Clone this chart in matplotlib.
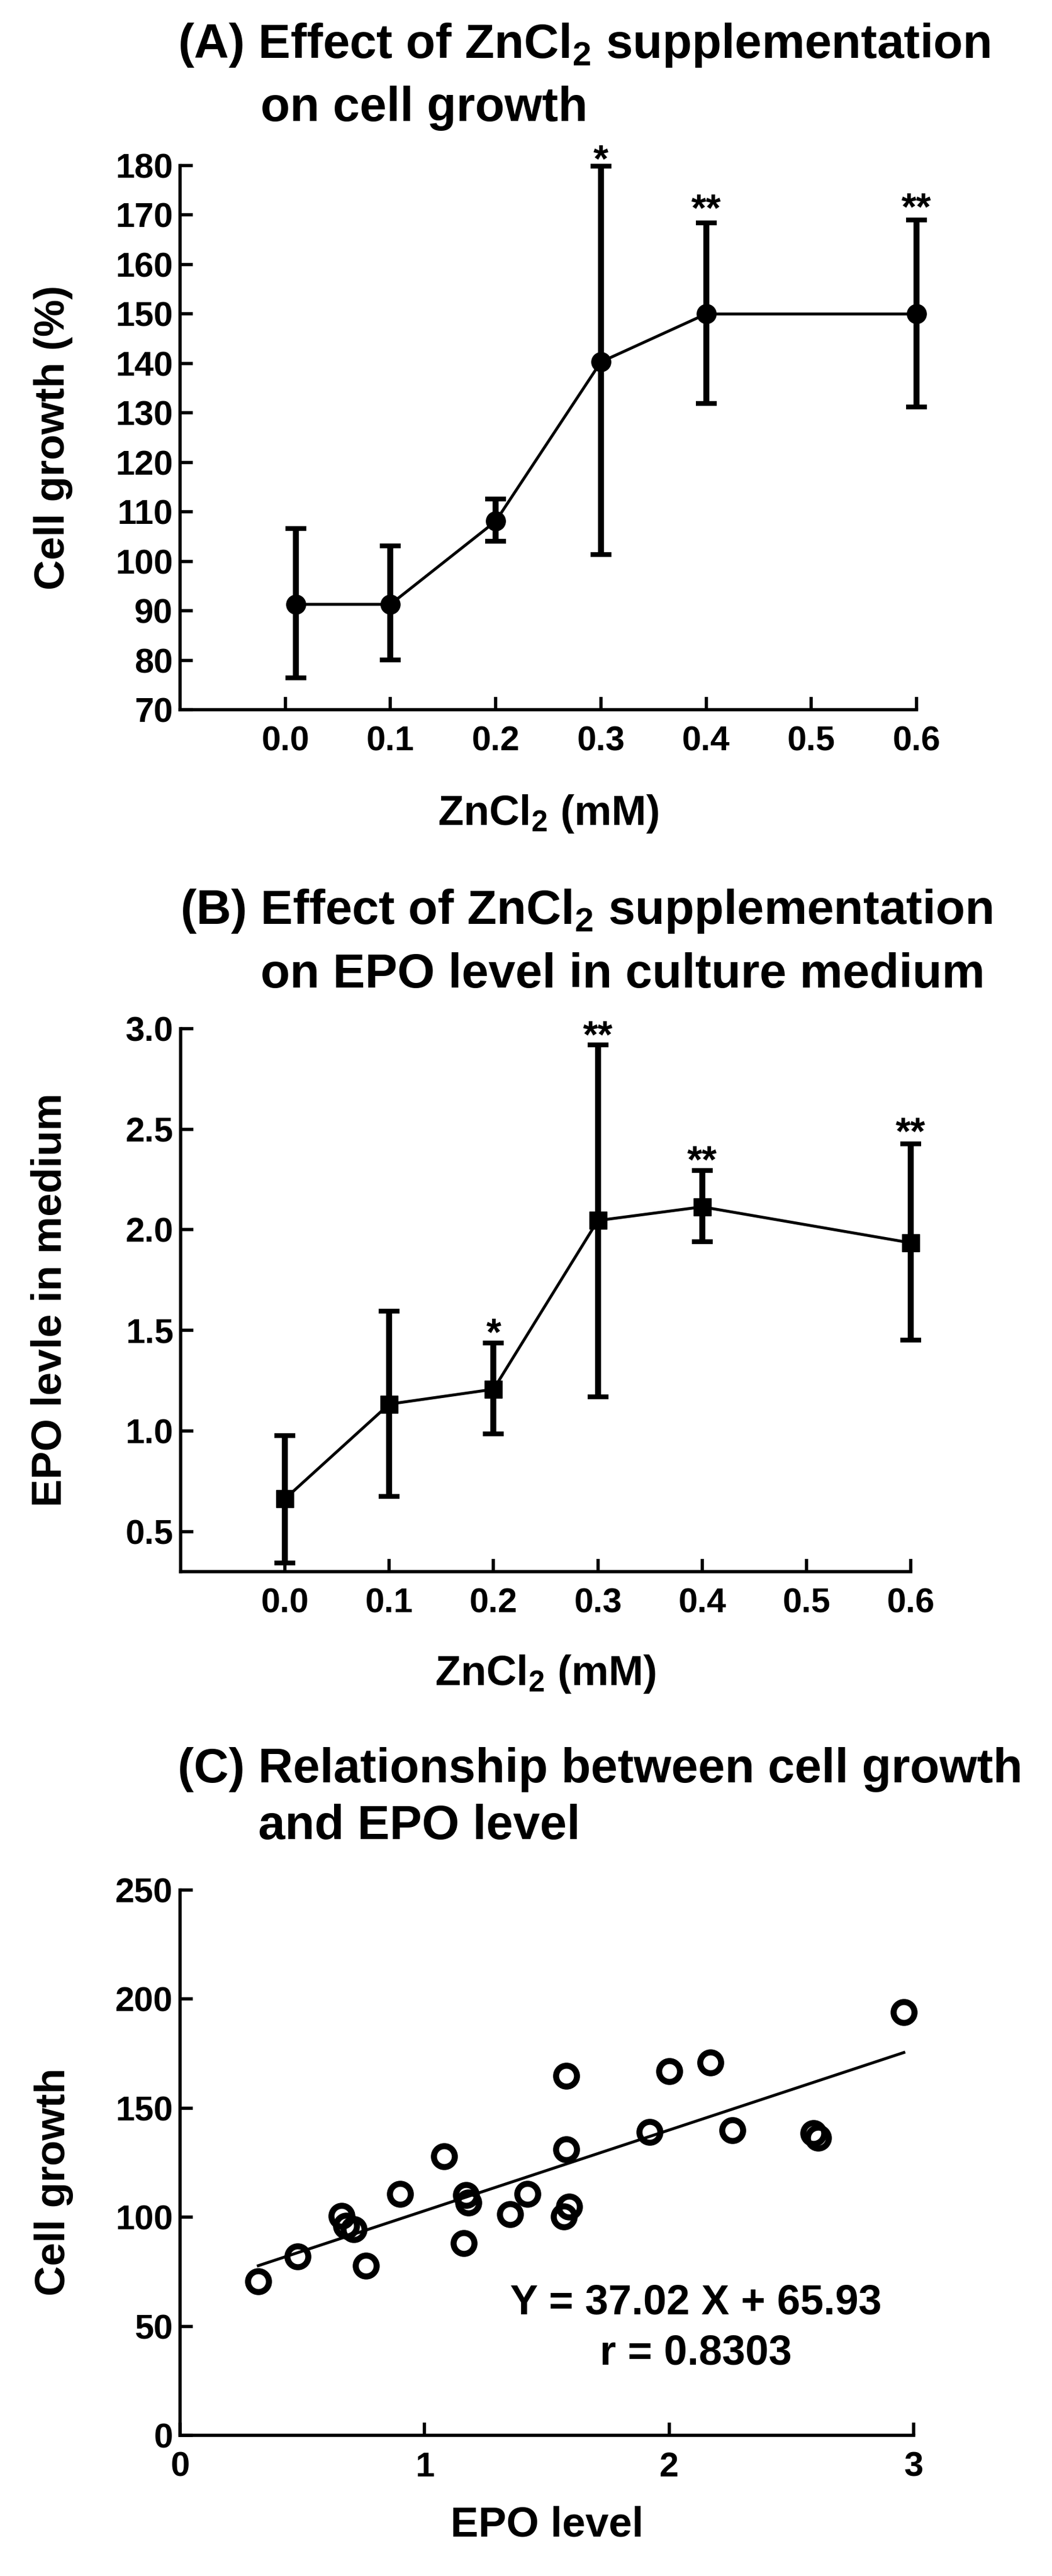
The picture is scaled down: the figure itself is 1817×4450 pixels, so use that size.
import matplotlib
matplotlib.use("Agg")
import matplotlib.pyplot as plt
import numpy as np

plt.rcParams['font.family'] = ['Liberation Sans', 'DejaVu Sans']
plt.rcParams['font.weight'] = 'bold'
plt.rcParams['mathtext.fontset'] = 'custom'
plt.rcParams['mathtext.rm'] = 'Liberation Sans:bold'
plt.rcParams['mathtext.it'] = 'Liberation Sans:bold'
plt.rcParams['mathtext.bf'] = 'Liberation Sans:bold'
plt.rcParams['mathtext.default'] = 'rm'

# ---------------- data ----------------
# Panel A: cell growth vs ZnCl2
zn_a = [0.01, 0.1, 0.2, 0.3, 0.4, 0.6]
growth_mean = [91.3, 91.3, 108.1, 140.3, 150.0, 150.0]
growth_upper = [106.6, 103.1, 112.6, 179.9, 168.4, 169.0]
growth_lower = [76.4, 80.1, 104.0, 101.4, 131.9, 131.2]
stars_a_x = [0.3, 0.4, 0.6]
stars_a_y = [183.3, 173.3, 173.6]
stars_a_txt = ['*', '**', '**']

# Panel B: EPO level vs ZnCl2
zn_b = [0.0, 0.1, 0.2, 0.3, 0.4, 0.6]
epo_mean = [0.662, 1.133, 1.207, 2.046, 2.114, 1.935]
epo_upper = [0.976, 1.594, 1.437, 2.92, 2.295, 2.428]
epo_lower = [0.343, 0.675, 0.985, 1.170, 1.941, 1.450]
stars_b_x = [0.2, 0.3, 0.4, 0.6]
stars_b_y = [1.538, 3.017, 2.396, 2.537]
stars_b_txt = ['*', '**', '**', '**']

# Panel C: cell growth vs EPO level
epo_c = [0.32, 0.48, 0.66, 0.68, 0.71, 0.76, 0.90, 1.08, 1.16, 1.17, 1.18,
         1.35, 1.42, 1.58, 1.58, 1.57, 1.59, 1.92, 2.00, 2.17, 2.26, 2.59,
         2.61, 2.96]
growth_c = [70.5, 81.9, 100.5, 96.0, 94.5, 77.7, 110.6, 127.9, 88.0, 110.1,
            106.6, 101.4, 110.6, 164.9, 131.0, 100.2, 104.8, 139.0, 166.8,
            171.0, 139.8, 138.6, 136.3, 193.9]
fit_slope = 37.02
fit_intercept = 65.93
fit_r = 0.8303

xticks_ab = [0.0, 0.1, 0.2, 0.3, 0.4, 0.5, 0.6]
yticks_a = list(range(70, 181, 10))
yticks_b = [0.5, 1.0, 1.5, 2.0, 2.5, 3.0]
xticks_c = [0, 1, 2, 3]
yticks_c = [0, 50, 100, 150, 200, 250]

# ---------------- layout ----------------
W, H = 1817, 4450
fig = plt.figure(figsize=(W / 100, H / 100), dpi=100)
fig.patch.set_facecolor('white')


def ax_rect(l, r, t, b):
    return [l / W, (H - b) / H, (r - l) / W, (b - t) / H]


def fx(x):
    return x / W


def fy(y):
    return (H - y) / H


TICK_FS = 43
LABEL_FS = 52
TITLE_FS = 60
STAR_FS = 48
SPINE_LW = 4.0


def style(ax):
    for s in ['top', 'right']:
        ax.spines[s].set_visible(False)
    for s in ['left', 'bottom']:
        ax.spines[s].set_linewidth(SPINE_LW)
        ax.spines[s].set_capstyle('projecting')
    ax.tick_params(axis='both', direction='in', length=16, width=SPINE_LW,
                   labelsize=TICK_FS)
    ax.tick_params(axis='y', pad=9)
    ax.tick_params(axis='x', pad=20)
    for lab in ax.get_xticklabels() + ax.get_yticklabels():
        lab.set_fontweight('bold')


def title(lines, x1, x2, baselines):
    fig.text(fx(x1), fy(baselines[0]), lines[0], fontsize=TITLE_FS,
             fontweight='bold', ha='left', va='baseline')
    fig.text(fx(x2), fy(baselines[1]), lines[1], fontsize=TITLE_FS,
             fontweight='bold', ha='left', va='baseline')


def stars(ax, xs, ys, txts):
    for x, y, t in zip(xs, ys, txts):
        ax.annotate(t, (x, y), xytext=(0, -0.575 * STAR_FS),
                    textcoords='offset points', ha='center', va='baseline',
                    fontsize=STAR_FS, fontweight='bold', annotation_clip=False)


EB_KW = dict(color='black', elinewidth=7.5, capsize=13, capthick=6,
             clip_on=False, zorder=3)

# ---------------- Panel A ----------------
axA = fig.add_axes(ax_rect(311, 1583, 286, 1226))
ga = np.array(growth_mean)
yerr_a = [ga - np.array(growth_lower), np.array(growth_upper) - ga]
axA.errorbar(zn_a, growth_mean, yerr=yerr_a, fmt='o', markersize=24, **EB_KW)
axA.plot(zn_a, growth_mean, color='black', lw=3.6, clip_on=False, zorder=2)
axA.set_xlim(-0.1, 0.6)
axA.set_ylim(70, 180)
axA.set_xticks(xticks_ab)
axA.set_xticklabels([f'{v:.1f}' for v in xticks_ab])
axA.set_yticks(yticks_a)
axA.set_yticklabels([str(v) for v in yticks_a])
style(axA)
stars(axA, stars_a_x, stars_a_y, stars_a_txt)
axA.text(-0.172, 0.5, 'Cell growth (%)', transform=axA.transAxes,
         rotation=90, ha='center', va='center', fontsize=LABEL_FS,
         fontweight='bold')
axA.text(0.5, -0.212, 'ZnCl$_2$ (mM)', transform=axA.transAxes,
         ha='center', va='baseline', fontsize=LABEL_FS, fontweight='bold')
title(['(A) Effect of ZnCl$_2$ supplementation', 'on cell growth'],
      307, 450, [100, 209])

# ---------------- Panel B ----------------
axB = fig.add_axes(ax_rect(312, 1573, 1777, 2715))
eb = np.array(epo_mean)
yerr_b = [eb - np.array(epo_lower), np.array(epo_upper) - eb]
axB.errorbar(zn_b, epo_mean, yerr=yerr_b, fmt='s', markersize=22, **EB_KW)
axB.plot(zn_b, epo_mean, color='black', lw=3.6, clip_on=False, zorder=2)
axB.set_xlim(-0.1, 0.6)
axB.set_ylim(0.3, 3.0)
axB.set_xticks(xticks_ab)
axB.set_xticklabels([f'{v:.1f}' for v in xticks_ab])
axB.set_yticks(yticks_b)
axB.set_yticklabels([f'{v:.1f}' for v in yticks_b])
style(axB)
stars(axB, stars_b_x, stars_b_y, stars_b_txt)
axB.text(-0.179, 0.5, 'EPO levle in medium', transform=axB.transAxes,
         rotation=90, ha='center', va='center', fontsize=LABEL_FS,
         fontweight='bold')
axB.text(0.5, -0.209, 'ZnCl$_2$ (mM)', transform=axB.transAxes,
         ha='center', va='baseline', fontsize=LABEL_FS, fontweight='bold')
title(['(B) Effect of ZnCl$_2$ supplementation',
       'on EPO level in culture medium'], 311, 450, [1596, 1706])

# ---------------- Panel C ----------------
axC = fig.add_axes(ax_rect(311, 1578, 3265, 4207))
axC.plot(epo_c, growth_c, linestyle='none', marker='o', markersize=26,
         markerfacecolor='none', markeredgecolor='black',
         markeredgewidth=7.5, clip_on=False, zorder=3)
xfit = np.array([min(epo_c), max(epo_c)])
axC.plot(xfit, fit_slope * xfit + fit_intercept, color='black', lw=3.6,
         zorder=2)
axC.set_xlim(0, 3)
axC.set_ylim(0, 250)
axC.set_xticks(xticks_c)
axC.set_xticklabels([str(v) for v in xticks_c])
axC.set_yticks(yticks_c)
axC.set_yticklabels([str(v) for v in yticks_c])
style(axC)
axC.text(-0.172, 0.465, 'Cell growth', transform=axC.transAxes,
         rotation=90, ha='center', va='center', fontsize=LABEL_FS,
         fontweight='bold')
axC.text(0.5, -0.185, 'EPO level', transform=axC.transAxes,
         ha='center', va='baseline', fontsize=LABEL_FS, fontweight='bold')
axC.text(2.11, 55.5, f'Y = {fit_slope:.2f} X + {fit_intercept:.2f}',
         ha='center', va='baseline', fontsize=LABEL_FS, fontweight='bold')
axC.text(2.11, 32.6, f'r = {fit_r:.4f}', ha='center', va='baseline',
         fontsize=LABEL_FS, fontweight='bold')
title(['(C) Relationship between cell growth', 'and EPO level'],
      307, 446, [3079, 3177])

fig.savefig('out.png', dpi=100, facecolor='white')
